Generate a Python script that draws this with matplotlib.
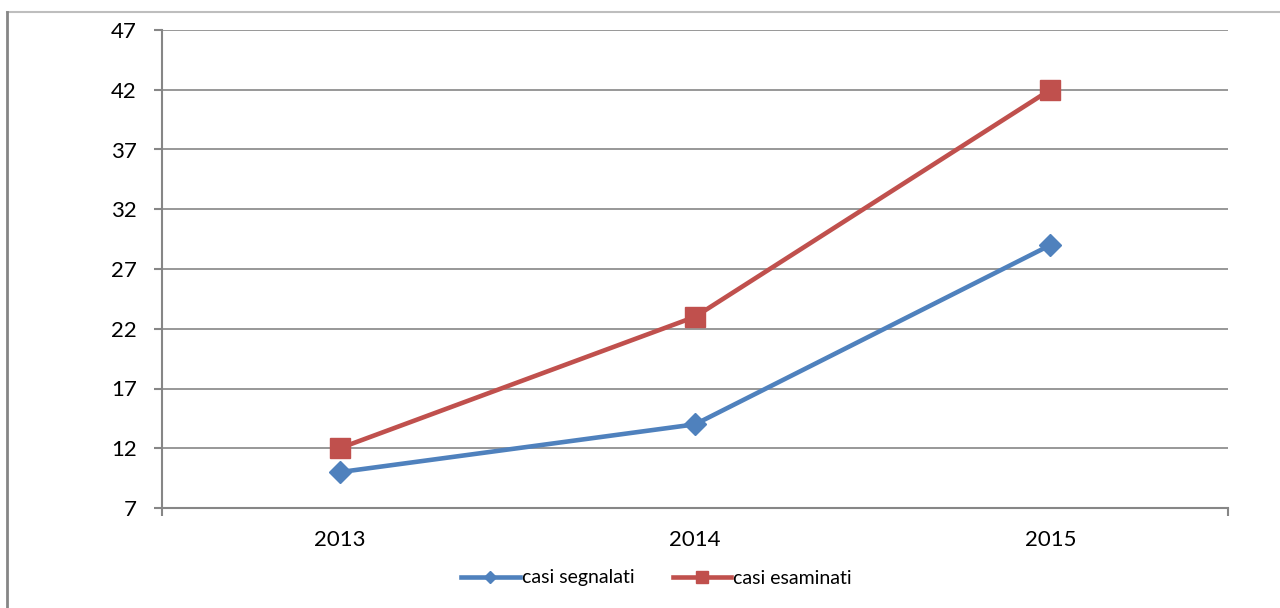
import numpy as np
import matplotlib
matplotlib.use("Agg")
import matplotlib.pyplot as plt
from matplotlib.lines import Line2D

#####################################################
# data
#####################################################

years = ["2013", "2014", "2015"]
casi_segnalati = [10, 14, 29]
casi_esaminati = [12, 23, 42]
y_ticks = [7, 12, 17, 22, 27, 32, 37, 42, 47]

#####################################################
# plot
#####################################################

plt.rcParams["font.family"] = ["Lato", "DejaVu Sans"]

fig = plt.figure(figsize=(12.8, 6.08), dpi=100)
ax = fig.add_axes([162 / 1280, 100 / 608, (1228 - 162) / 1280, (508 - 30) / 608])

x = np.arange(len(years))
blue = "#4F81BD"
red = "#C0504D"
grid_col = "#868686"

ax.plot(x, casi_segnalati, color=blue, linewidth=3.3, marker="D", markersize=11,
        label="casi segnalati", zorder=3)
ax.plot(x, casi_esaminati, color=red, linewidth=3.3, marker="s", markersize=14,
        label="casi esaminati", zorder=4)

ax.set_xlim(-0.5, len(years) - 0.5)
ax.set_ylim(y_ticks[0], y_ticks[-1])
ax.set_yticks(y_ticks)
ax.set_xticks(x)
ax.set_xticklabels(years)
# only the two end tick marks on the category axis
ax.set_xticks([-0.5, len(years) - 0.5], minor=True)

ax.yaxis.grid(True, color=grid_col, linewidth=1.2)
ax.set_axisbelow(True)

for side in ["top", "right"]:
    ax.spines[side].set_visible(False)
for side in ["left", "bottom"]:
    ax.spines[side].set_color(grid_col)
    ax.spines[side].set_linewidth(1.5)

ax.tick_params(axis="y", length=6, width=1.5, color=grid_col, labelsize=16, pad=12)
ax.tick_params(axis="x", which="major", length=0, labelsize=16, pad=16)
ax.tick_params(axis="x", which="minor", length=6, width=1.5, color=grid_col)

fig.legend(
    loc="center",
    bbox_to_anchor=(0.513, 1 - 578 / 608),
    ncols=2,
    frameon=False,
    fontsize=14,
    handlelength=3.0,
    handletextpad=0.1,
    columnspacing=2.0,
    markerscale=0.6,
)

# outer chart border
fig.add_artist(Line2D([7 / 1280, 1], [1 - 12 / 608, 1 - 12 / 608],
                      transform=fig.transFigure, color="#BEBEBE", linewidth=1.5))
fig.add_artist(Line2D([7 / 1280, 7 / 1280], [0, 1 - 12 / 608],
                      transform=fig.transFigure, color="#868686", linewidth=2))

plt.savefig("out.png", dpi=100)
plt.close()
